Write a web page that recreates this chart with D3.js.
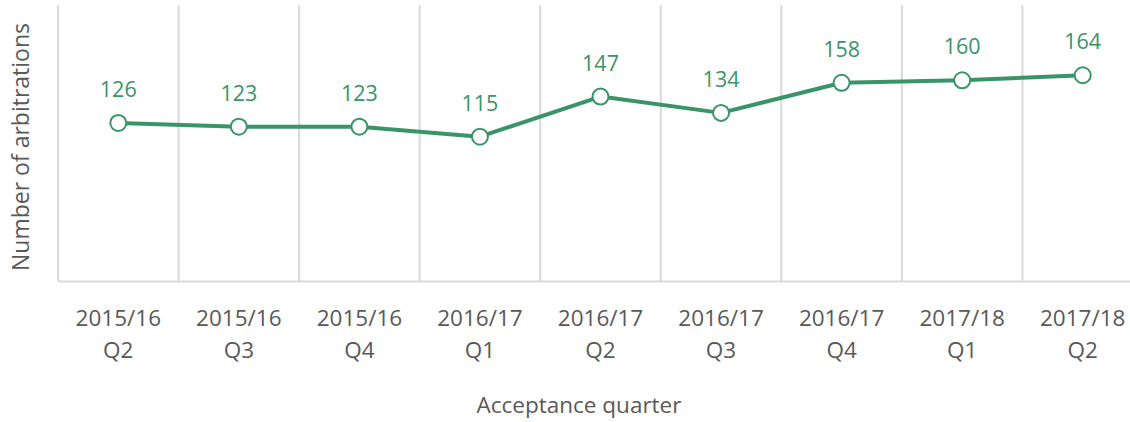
<!DOCTYPE html>
<html>
<head>
<meta charset="utf-8">
<script src="https://cdn.jsdelivr.net/npm/d3@7"></script>
<style>
  body { margin: 0; background: #fff; }
  text { font-family: "Open Sans", "Noto Sans", sans-serif; }
</style>
</head>
<body>
<script>
// Data
var quarters = ["2015/16 Q2", "2015/16 Q3", "2015/16 Q4", "2016/17 Q1", "2016/17 Q2",
                "2016/17 Q3", "2016/17 Q4", "2017/18 Q1", "2017/18 Q2"];
var arbitrations = [126, 123, 123, 115, 147, 134, 158, 160, 164];
var yDomain = [0, 220];

var width = 1130, height = 422;
var margin = {top: 5, left: 58, bottom: 141};
var plotRight = 1143;
var green = "#3a9469", grey = "#595959", grid = "#d9d9d9";

var data = quarters.map(function(q, i) { return {q: q, v: arbitrations[i]}; });

var svg = d3.select("body").append("svg")
    .attr("width", width)
    .attr("height", height);

// Scales
var x = d3.scaleBand()
    .domain(quarters)
    .range([margin.left, plotRight]);
var y = d3.scaleLinear()
    .domain(yDomain)
    .range([height - margin.bottom, margin.top]);

// Vertical gridlines at band edges
var edges = quarters.map(function(q) { return x(q); }).concat([plotRight]);
svg.append("g").selectAll("line")
    .data(edges)
    .enter().append("line")
    .attr("x1", function(d) { return d; })
    .attr("x2", function(d) { return d; })
    .attr("y1", y(yDomain[1]))
    .attr("y2", y(0))
    .attr("stroke", grid)
    .attr("stroke-width", 2);

// Bottom axis
var xAxis = svg.append("g")
    .attr("transform", "translate(0," + y(0) + ")")
    .call(d3.axisBottom(x).tickSize(0).tickPadding(0));
xAxis.select(".domain").attr("stroke", grid).attr("stroke-width", 2);
xAxis.selectAll(".tick text").each(function(d) {
  var parts = d.split(" ");
  var t = d3.select(this).text(null)
      .attr("fill", grey)
      .attr("font-size", 22.5)
      .attr("y", 0)
      .attr("dy", null);
  t.append("tspan").attr("x", 0).attr("y", 45).text(parts[0]);
  t.append("tspan").attr("x", 0).attr("y", 77).text(parts[1]);
});

// Line
var line = d3.line()
    .x(function(d) { return x(d.q) + x.bandwidth() / 2; })
    .y(function(d) { return y(d.v); });
svg.append("path")
    .datum(data)
    .attr("fill", "none")
    .attr("stroke", green)
    .attr("stroke-width", 4)
    .attr("stroke-linejoin", "round")
    .attr("d", line);

// Markers
svg.append("g").selectAll("circle")
    .data(data)
    .enter().append("circle")
    .attr("cx", function(d) { return x(d.q) + x.bandwidth() / 2; })
    .attr("cy", function(d) { return y(d.v); })
    .attr("r", 8)
    .attr("fill", "#fff")
    .attr("stroke", green)
    .attr("stroke-width", 2);

// Data labels
svg.append("g").selectAll("text")
    .data(data)
    .enter().append("text")
    .attr("x", function(d) { return x(d.q) + x.bandwidth() / 2; })
    .attr("y", function(d) { return y(d.v) - 26; })
    .attr("text-anchor", "middle")
    .attr("fill", green)
    .attr("font-size", 21.5)
    .text(function(d) { return d.v; });

// Axis titles
svg.append("text")
    .attr("x", 579)
    .attr("y", 413)
    .attr("text-anchor", "middle")
    .attr("fill", grey)
    .attr("font-size", 22.5)
    .text("Acceptance quarter");

svg.append("text")
    .attr("transform", "translate(29," + 147 + ") rotate(-90)")
    .attr("text-anchor", "middle")
    .attr("fill", grey)
    .attr("font-size", 23)
    .text("Number of arbitrations");
</script>
</body>
</html>
